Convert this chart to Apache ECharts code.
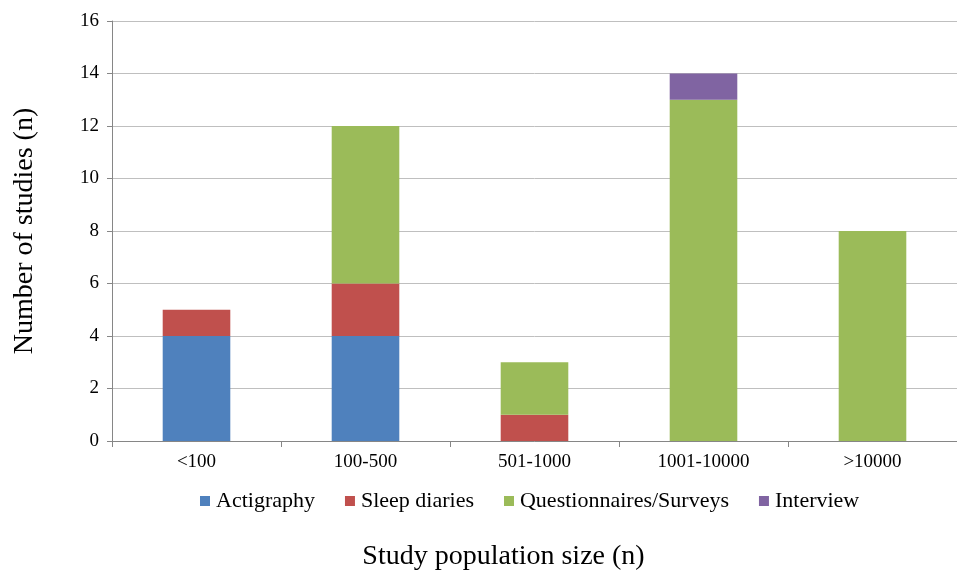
<!DOCTYPE html>
<html><head><meta charset="utf-8">
<script src="https://cdn.jsdelivr.net/npm/echarts@6/dist/echarts.min.js"></script>
<style>html,body{margin:0;padding:0;background:#fff}#c{width:957px;height:570px}</style>
</head><body><div id="c"></div>
<script>
const categories = ['<100', '100-500', '501-1000', '1001-10000', '>10000'];
const actigraphy = [4, 4, 0, 0, 0];
const sleepDiaries = [1, 2, 1, 0, 0];
const questionnaires = [0, 6, 2, 13, 8];
const interview = [0, 0, 0, 1, 0];
const yTicks = [0, 2, 4, 6, 8, 10, 12, 14, 16];

const font = 'Liberation Serif, Times New Roman, serif';
const chart = echarts.init(document.getElementById('c'));
function s(name, data, color) {
  return { name, type: 'bar', stack: 'a', data, barWidth: '40%', itemStyle: { color }, emphasis: { disabled: true } };
}
chart.setOption({
  animation: false,
  textStyle: { fontFamily: font },
  grid: { left: 112, right: 0, top: 21, bottom: 129, outerBoundsMode: 'none', containLabel: false },
  legend: {
    top: 485, left: 195, itemWidth: 10, itemHeight: 10, itemGap: 30, icon: 'rect',
    textStyle: { fontFamily: font, fontSize: 22, color: '#000', padding: [0, 0, 0, 1] }
  },
  xAxis: {
    type: 'category', data: categories,
    name: 'Study population size (n)', nameLocation: 'middle', nameGap: 102,
    nameTextStyle: { fontFamily: font, fontSize: 28, color: '#000', padding: [0, 62, 0, 0] },
    axisLine: { lineStyle: { color: '#868686' } },
    axisTick: { show: true, length: 6, lineStyle: { color: '#868686' } },
    axisLabel: { fontFamily: font, fontSize: 19, color: '#000', margin: 12 }
  },
  yAxis: {
    type: 'value', min: yTicks[0], max: yTicks[yTicks.length - 1], interval: 2,
    name: 'Number of studies (n)', nameLocation: 'middle', nameGap: 73,
    nameTextStyle: { fontFamily: font, fontSize: 28, color: '#000' },
    axisLine: { show: true, lineStyle: { color: '#868686' } },
    axisTick: { show: true, length: 5, lineStyle: { color: '#868686' } },
    axisLabel: { fontFamily: font, fontSize: 19, color: '#000', margin: 13 },
    splitLine: { lineStyle: { color: '#BFBFBF' } }
  },
  series: [
    s('Actigraphy', actigraphy, '#4F81BD'),
    s('Sleep diaries', sleepDiaries, '#C0504D'),
    s('Questionnaires/Surveys', questionnaires, '#9BBB59'),
    s('Interview', interview, '#8064A2')
  ]
});
</script></body></html>
